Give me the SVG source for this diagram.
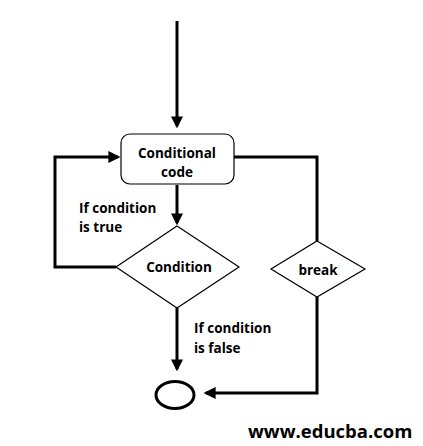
<svg xmlns="http://www.w3.org/2000/svg" width="423" height="446" viewBox="0 0 423 446">
<style>
.ln{fill:none;stroke:#000;stroke-width:3}
.sh{fill:#fff;stroke:#000;stroke-width:1.2}
.t{font-family:"Open Sans","DejaVu Sans",sans-serif;font-weight:bold;font-size:13.5px;fill:#000}
.c{text-anchor:middle}
</style>
<defs>
<marker id="ah" markerWidth="4" markerHeight="4" refX="3.2" refY="2" orient="auto" markerUnits="strokeWidth">
<path d="M0,0 L4,2 L0,4 Z" fill="#000"/>
</marker>
</defs>
<rect width="423" height="446" fill="#fff"/>
<g id="connectors">
<line class="ln" x1="177" y1="21" x2="177" y2="126" marker-end="url(#ah)"/>
<line class="ln" x1="177" y1="185" x2="177" y2="223" marker-end="url(#ah)"/>
<polyline class="ln" points="116,267 55,267 55,157 118,157" marker-end="url(#ah)"/>
<polyline class="ln" points="234,157 317,157 317,241"/>
<line class="ln" x1="177" y1="308" x2="177" y2="369" marker-end="url(#ah)"/>
<polyline class="ln" points="317,297 317,393 206,393" marker-end="url(#ah)"/>
</g>
<g id="code">
<rect class="sh" x="121" y="134" width="113" height="50" rx="9"/>
<text class="t c" x="177" y="158">Conditional</text>
<text class="t c" x="177" y="177">code</text>
</g>
<g id="condition">
<polygon class="sh" points="177,226 239,267 177,308 116,267"/>
<text class="t c" x="179" y="272">Condition</text>
</g>
<g id="break">
<polygon class="sh" points="317,241 365,269 317,297 271,269"/>
<text class="t c" x="318" y="275">break</text>
</g>
<g id="end">
<ellipse cx="175" cy="395" rx="19" ry="13.5" fill="#fff" stroke="#000" stroke-width="3"/>
</g>
<g id="labels">
<text class="t" x="79" y="213">If condition</text>
<text class="t" x="79" y="232">is true</text>
<text class="t" x="194" y="333">If condition</text>
<text class="t" x="194" y="353">is false</text>
<text class="t" x="248" y="438" style="font-size:18.5px">www.educba.com</text>
</g>
</svg>
